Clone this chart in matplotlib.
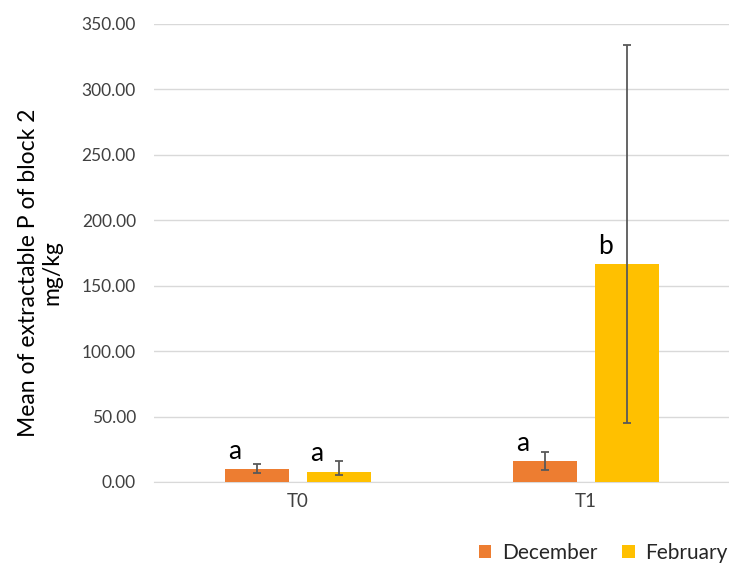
import matplotlib
matplotlib.use("Agg")
import matplotlib.pyplot as plt
from matplotlib.patches import Patch
import numpy as np

plt.rcParams['font.family'] = ['Lato', 'DejaVu Sans']

categories = ["T0", "T1"]
series_names = ["December", "February"]

dec_mean = [9.7, 15.8]
dec_low = [6.9, 9.0]
dec_high = [13.5, 22.7]
dec_letters = ["a", "a"]

feb_mean = [7.9, 166.5]
feb_low = [5.3, 44.8]
feb_high = [16.3, 333.8]
feb_letters = ["a", "b"]

y_ticks = [0, 50, 100, 150, 200, 250, 300, 350]

colors = ["#ED7D31", "#FFC000"]
err_color = "#595959"

fig = plt.figure(figsize=(7.29, 5.63), dpi=100)
ax = fig.add_axes([154 / 729, 81 / 563, 576 / 729, 458 / 563])

x = np.arange(len(categories))
width = 0.222
offset = 0.142

series = [
    (dec_mean, dec_low, dec_high, dec_letters, -offset, colors[0]),
    (feb_mean, feb_low, feb_high, feb_letters, offset, colors[1]),
]

for mean, low, high, letters, off, col in series:
    mean = np.array(mean)
    yerr = np.vstack([mean - np.array(low), np.array(high) - mean])
    ax.bar(x + off, mean, width, color=col, zorder=3)
    ax.errorbar(x + off, mean, yerr=yerr, fmt="none", ecolor=err_color,
                elinewidth=1.3, capsize=3, capthick=1.3, zorder=4)
    for xi, m, lab in zip(x + off, mean, letters):
        ax.annotate(lab, (xi - width / 2, m), xytext=(2, 4),
                    textcoords="offset points", ha="left", va="bottom",
                    fontsize=19, color="black")

ax.set_xlim(-0.5, 1.5)
ax.set_ylim(0, 350)
ax.set_yticks(y_ticks)
ax.set_yticklabels([f"{v:.2f}" for v in y_ticks])
ax.set_xticks(x)
ax.set_xticklabels(categories)
ax.tick_params(axis="y", length=0, pad=13, labelsize=12.5, labelcolor="#404040")
ax.tick_params(axis="x", length=0, pad=8, labelsize=13.5, labelcolor="#404040")
ax.grid(axis="y", color="#d9d9d9", linewidth=1, zorder=0)
for s in ["top", "right", "left"]:
    ax.spines[s].set_visible(False)
ax.spines["bottom"].set_color("#d9d9d9")
ax.set_axisbelow(True)

fig.text(40 / 729, 1 - 273 / 563, "Mean of extractable P of block 2\nmg/kg",
         rotation=90, ha="center", va="center", fontsize=16.5, color="black",
         linespacing=1.15)

handles = [Patch(facecolor=c, edgecolor="none") for c in colors]
fig.legend(handles, series_names, loc="center", bbox_to_anchor=(603 / 729, 10 / 563),
           ncol=2, frameon=False, fontsize=15, handlelength=0.6, handleheight=0.6,
           handletextpad=0.5, columnspacing=1.2, labelcolor="#262626")

fig.savefig("out.png", dpi=100)
